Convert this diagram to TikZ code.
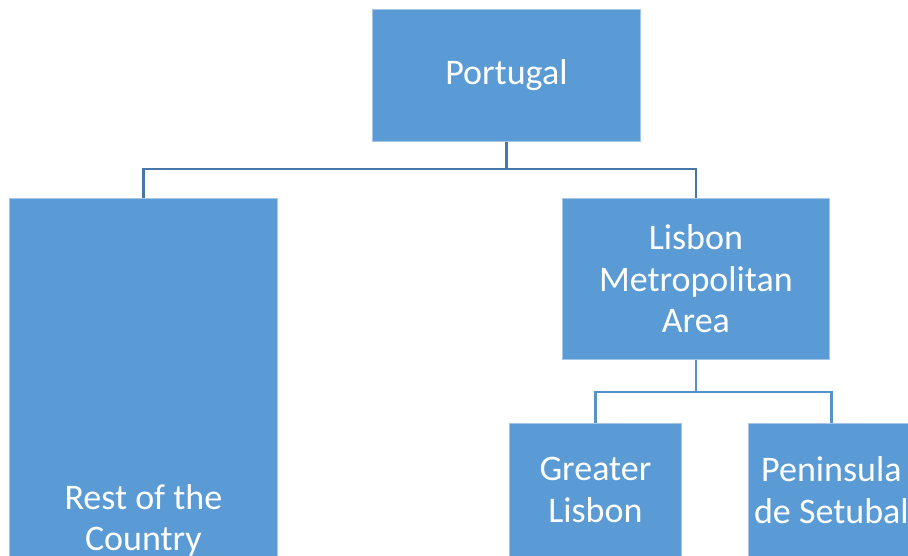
\documentclass[tikz,border=0pt]{standalone}
\usepackage{fontspec}
\setmainfont{Carlito}
\definecolor{boxfill}{HTML}{5B9BD5}
\definecolor{boxedge}{HTML}{A5C6E6}
\definecolor{lineup}{HTML}{4677A8}
\definecolor{linelow}{HTML}{5791CA}
\tikzset{
  orgbox/.style={draw=boxedge, line width=0.8pt, fill=boxfill, text=white,
    font=\fontsize{36}{41.5}\selectfont, align=center, inner sep=0pt, anchor=north west},
  upconn/.style={draw=lineup, line width=2.4pt},
  lowconn/.style={draw=linelow, line width=2.4pt}
}
\begin{document}
\begin{tikzpicture}[x=1pt,y=-1pt]
\useasboundingbox (0,0) rectangle (908,556);
\clip (0,0) rectangle (908,556);
\node[orgbox, minimum width=268pt, minimum height=132pt] (portugal) at (372,9) {Portugal};
\node[orgbox, minimum width=268pt, minimum height=644pt] (rest) at (9,198) {Rest of the\\Country};
\node[orgbox, minimum width=267pt, minimum height=161pt] (lisbon) at (562,198) {Lisbon\\Metropolitan\\Area};
\node[orgbox, minimum width=172pt, minimum height=133pt] (greater) at (509,423) {Greater\\Lisbon};
\node[orgbox, minimum width=166pt, minimum height=133pt] (setubal) at (748,423) {Peninsula\\de Setubal};
\path (portugal.south) ++(0,27) coordinate (j1);
\path (lisbon.south) ++(0,32) coordinate (j2);
\draw[upconn] (portugal.south) -- (j1) -| (rest.north);
\draw[upconn] (j1) -| (lisbon.north);
\draw[lowconn] (lisbon.south) -- (j2) -| (greater.north);
\draw[lowconn] (j2) -| (setubal.north);
\end{tikzpicture}
\end{document}
